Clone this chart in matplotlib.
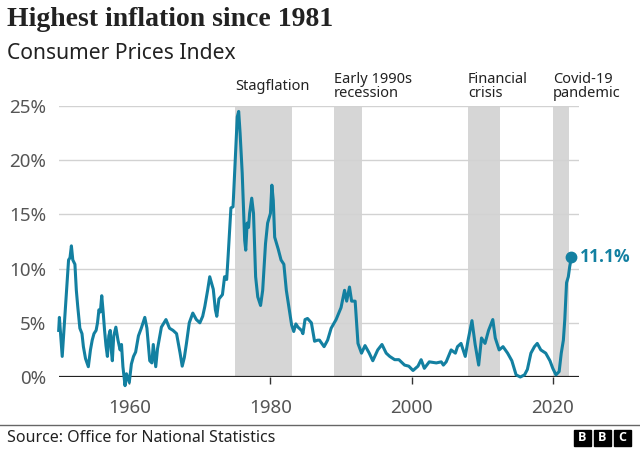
import matplotlib.pyplot as plt
from matplotlib.patches import Rectangle

# CPI annual rate
years = [1950.0, 1950.1, 1950.5, 1951.4, 1951.6, 1951.8, 1952.0, 1952.3, 1952.5, 1952.7,
         1953.0, 1953.3, 1953.5, 1953.8, 1954.2, 1954.5, 1954.75, 1955.0, 1955.3, 1955.5,
         1955.7, 1955.9, 1956.1, 1956.3, 1956.5, 1956.7, 1956.9, 1957.1, 1957.3, 1957.45,
         1957.6, 1957.8, 1958.1, 1958.4, 1958.7, 1958.9, 1959.1, 1959.4, 1959.6, 1960.0,
         1960.3, 1960.6, 1960.9, 1961.3, 1961.7, 1962.2, 1962.5, 1962.9, 1963.2, 1963.4,
         1963.75, 1964.0, 1964.55, 1965.2, 1965.7, 1966.2, 1966.7, 1967.2, 1967.5, 1967.8,
         1968.1, 1968.5, 1969.0, 1969.5, 1970.0, 1970.4, 1970.7, 1971.1, 1971.4, 1971.9,
         1972.2, 1972.4, 1972.7, 1973.2, 1973.5, 1973.8, 1974.0, 1974.4, 1974.7, 1974.95,
         1975.3, 1975.5, 1975.7, 1976.0, 1976.35, 1976.5, 1976.7, 1976.9, 1977.05, 1977.35,
         1977.6, 1977.9, 1978.2, 1978.6, 1978.9, 1979.3, 1979.6, 1980.0, 1980.2, 1980.4,
         1980.6, 1981.1, 1981.5, 1981.9, 1982.25, 1982.6, 1983.0, 1983.3, 1983.6, 1983.9,
         1984.4, 1984.6, 1984.9, 1985.25, 1985.8, 1986.25, 1986.7, 1986.95, 1987.6, 1988.1,
         1988.6, 1989.3, 1990.0, 1990.5, 1990.8, 1991.2, 1991.5, 1992.0, 1992.4, 1992.9,
         1993.4, 1994.0, 1994.5, 1995.2, 1995.8, 1996.4, 1996.9, 1997.6, 1998.2, 1999.0,
         1999.6, 2000.2, 2000.9, 2001.35, 2001.8, 2002.5, 2003.5, 2004.2, 2004.5, 2004.9,
         2005.6, 2006.2, 2006.5, 2007.0, 2007.6, 2008.0, 2008.55, 2009.0, 2009.5, 2009.9,
         2010.4, 2010.9, 2011.5, 2011.85, 2012.4, 2012.95, 2013.6, 2014.2, 2014.8, 2015.4,
         2016.0, 2016.4, 2016.9, 2017.4, 2017.8, 2018.3, 2019.0, 2019.6, 2020.0, 2020.45,
         2020.9, 2021.2, 2021.5, 2021.7, 2021.95, 2022.2, 2022.4, 2022.65]
cpi = [4.3, 5.5, 1.9, 10.8, 11.0, 12.1, 10.8, 10.4, 8.0, 6.5,
       4.5, 4.0, 2.8, 1.7, 0.95, 2.5, 3.4, 4.0, 4.3, 5.0,
       6.2, 6.0, 7.5, 6.0, 4.3, 2.9, 1.9, 3.8, 4.3, 2.5,
       1.5, 3.8, 4.6, 3.4, 2.5, 3.0, 0.95, -0.8, 0.3, -0.5,
       1.2, 1.9, 2.3, 3.8, 4.5, 5.5, 4.5, 1.5, 1.3, 3.0,
       0.95, 2.6, 4.6, 5.3, 4.5, 4.3, 4.0, 2.2, 1.0, 1.8,
       3.1, 5.0, 5.9, 5.3, 5.0, 5.6, 6.5, 8.0, 9.25, 8.1,
       6.2, 5.6, 7.2, 7.6, 9.25, 9.0, 11.1, 15.6, 15.7, 19.1,
       24.0, 24.5, 22.5, 18.8, 12.6, 11.7, 14.2, 13.8, 15.1, 16.5,
       15.1, 9.25, 7.4, 6.6, 8.0, 12.3, 14.2, 15.1, 17.7, 16.3,
       12.9, 11.8, 10.8, 10.4, 8.0, 6.5, 4.8, 4.2, 4.9, 4.6,
       4.3, 4.0, 5.3, 5.4, 5.0, 3.3, 3.4, 3.4, 2.8, 3.4,
       4.5, 5.3, 6.4, 8.0, 7.0, 8.3, 7.0, 7.0, 3.1, 2.2,
       2.9, 2.2, 1.5, 2.5, 3.0, 2.2, 1.9, 1.6, 1.6, 1.1,
       1.0, 0.6, 1.0, 1.6, 0.8, 1.4, 1.3, 1.4, 1.1, 1.4,
       2.5, 2.2, 2.8, 3.1, 1.9, 3.4, 5.2, 3.0, 1.1, 3.6,
       3.1, 4.3, 5.3, 3.6, 2.5, 2.8, 2.2, 1.5, 0.2, 0.0,
       0.2, 0.7, 2.2, 2.8, 3.1, 2.5, 2.2, 1.5, 0.8, 0.2,
       0.5, 2.2, 3.4, 5.3, 8.7, 9.25, 10.2, 11.1]

periods = ['Stagflation', 'Early 1990s\nrecession', 'Financial\ncrisis', 'Covid-19\npandemic']
period_start = [1975, 1989, 2008, 2020]
period_end = [1983, 1993, 2012.5, 2022.3]

yticks = [0, 5, 10, 15, 20, 25]
xticks = [1960, 1980, 2000, 2020]

line_col = '#1380a1'
sans = ['Noto Sans', 'DejaVu Sans']
sans_bold = ['Open Sans', 'DejaVu Sans']

fig = plt.figure(figsize=(6.4, 4.5), dpi=100)
ax = fig.add_axes([0.0917, 0.1622, 0.8135, 0.6022])
ax.set_xlim(1950, 2023.76)
ax.set_ylim(0, 25)

for s, e in zip(period_start, period_end):
    ax.axvspan(s, e, color='#d6d6d6', lw=0, zorder=0)
for y in yticks[1:]:
    ax.axhline(y, color='#d2d2d2', lw=1, zorder=1)
ax.axhline(0, color='#222222', lw=1.6, zorder=3)

ax.plot(years, cpi, color=line_col, lw=2.2, clip_on=False, zorder=4, solid_joinstyle='round')
ax.plot(years[-1], cpi[-1], 'o', ms=7.5, color=line_col, clip_on=False, zorder=5)
ax.annotate(f'{cpi[-1]}%', (years[-1], cpi[-1]), xytext=(6, 0), textcoords='offset points',
            va='center', ha='left', fontsize=12.5, fontweight='bold', color=line_col,
            family=sans_bold)

for lab, s in zip(periods, period_start):
    ax.text(s, 26.8, lab, ha='left', va='center', fontsize=10.5, color='#222222',
            family=sans, linespacing=0.9)

ax.set_yticks(yticks)
ax.set_yticklabels([f'{v}%' for v in yticks], family=sans)
ax.set_xticks(xticks)
ax.set_xticklabels([str(v) for v in xticks], family=sans)
ax.tick_params(axis='y', length=0, pad=9, labelsize=13.5, labelcolor='#555555')
ax.tick_params(axis='x', length=5, width=1, color='#333333', pad=10.5, labelsize=13.5,
               labelcolor='#555555')
for sp in ax.spines.values():
    sp.set_visible(False)

fig.text(0.011, 0.984, 'Highest inflation since 1981', ha='left', va='top', fontsize=20,
         fontweight='bold', color='#222222', family=['Liberation Serif', 'DejaVu Serif'])
fig.text(0.011, 0.905, 'Consumer Prices Index', ha='left', va='top', fontsize=15.2,
         color='#222222', family=sans)

fig.add_artist(plt.Line2D([0, 1], [0.0556, 0.0556], color='#666666', lw=1))
fig.text(0.011, 0.027, 'Source: Office for National Statistics', ha='left', va='center',
         fontsize=11.5, color='#222222', family=sans)
for i, letter in enumerate('BBC'):
    x0 = (574 + i * 20) / 640
    fig.add_artist(Rectangle((x0, 0.009), 17 / 640, 16 / 450, color='black'))
    fig.text(x0 + 8.5 / 640, 0.009 + 8 / 450, letter, ha='center', va='center', fontsize=9,
             fontweight='bold', color='white', family=sans_bold)

fig.savefig('out.png', dpi=100)
